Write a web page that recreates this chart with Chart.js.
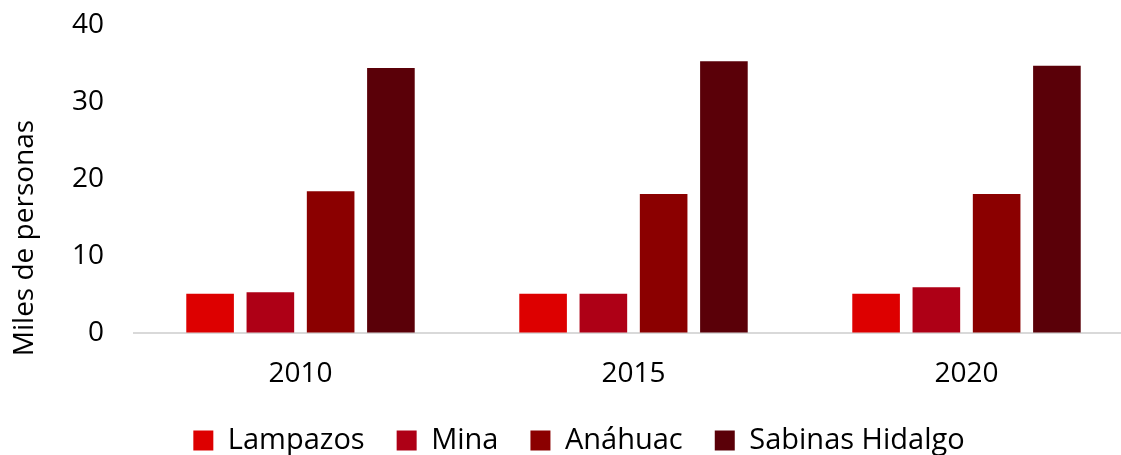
<!DOCTYPE html>
<html>
<head>
<meta charset="utf-8">
<script src="https://cdn.jsdelivr.net/npm/chart.js@4"></script>
<style>
  html, body { margin: 0; padding: 0; background: #fff; overflow: hidden; }
  #wrap { width: 1121px; height: 455px; overflow: hidden; }
</style>
</head>
<body>
<div id="wrap"><canvas id="popChart" width="1133" height="455"></canvas></div>
<script>
var years = ['2010', '2015', '2020'];
var lampazos = [5.1, 5.1, 5.1];
var mina = [5.3, 5.1, 5.95];
var anahuac = [18.4, 18.05, 18.05];
var sabinas = [34.4, 35.3, 34.7];
var yTitle = 'Miles de personas';

var fontFamily = '"Open Sans", "Noto Sans", sans-serif';

// y title drawn at the spot it sits in the original
var yTitlePlugin = {
    id: 'yTitle',
    afterDraw: function (chart) {
        var ctx = chart.ctx;
        ctx.save();
        ctx.translate(25, 238);
        ctx.rotate(-Math.PI / 2);
        ctx.font = '28px ' + fontFamily;
        ctx.fillStyle = '#000';
        ctx.textAlign = 'center';
        ctx.textBaseline = 'middle';
        ctx.fillText(yTitle, 0, 0);
        ctx.restore();
    }
};

window.onload = function () {
    var config = {
        type: 'bar',
        data: {
            labels: years,
            datasets: [
                { label: 'Lampazos', data: lampazos, backgroundColor: '#dd0000' },
                { label: 'Mina', data: mina, backgroundColor: '#ae0016' },
                { label: 'Anáhuac', data: anahuac, backgroundColor: '#8b0000' },
                { label: 'Sabinas Hidalgo', data: sabinas, backgroundColor: '#5a0008' }
            ]
        },
        options: {
            responsive: false,
            animation: false,
            categoryPercentage: 0.724,
            barPercentage: 0.79,
            layout: { padding: { left: 25, right: 0, top: 25, bottom: -10 } },
            plugins: {
                legend: {
                    position: 'bottom',
                    labels: {
                        boxWidth: 20,
                        boxHeight: 20,
                        padding: 32,
                        color: '#000',
                        font: { size: 29, family: fontFamily }
                    }
                },
                tooltip: { enabled: false }
            },
            scales: {
                x: {
                    grid: { display: false, drawTicks: false },
                    border: { color: '#d9d9d9', width: 2 },
                    ticks: { color: '#000', padding: 24, font: { size: 28, family: fontFamily } },
                    afterFit: function (scale) { scale.height = 61; }
                },
                y: {
                    min: 0,
                    max: 40,
                    // invisible tick marks give the label gap without extra top padding
                    grid: { drawOnChartArea: false, drawTicks: true, tickLength: 30, tickColor: 'rgba(0,0,0,0)' },
                    border: { display: false },
                    ticks: { stepSize: 10, color: '#000', padding: 0, font: { size: 28, family: fontFamily } },
                    afterFit: function (scale) { scale.width = 109; }
                }
            }
        },
        plugins: [yTitlePlugin]
    };

    var ctx = document.getElementById('popChart').getContext('2d');
    window.popChart = new Chart(ctx, config);
};
</script>
</body>
</html>
